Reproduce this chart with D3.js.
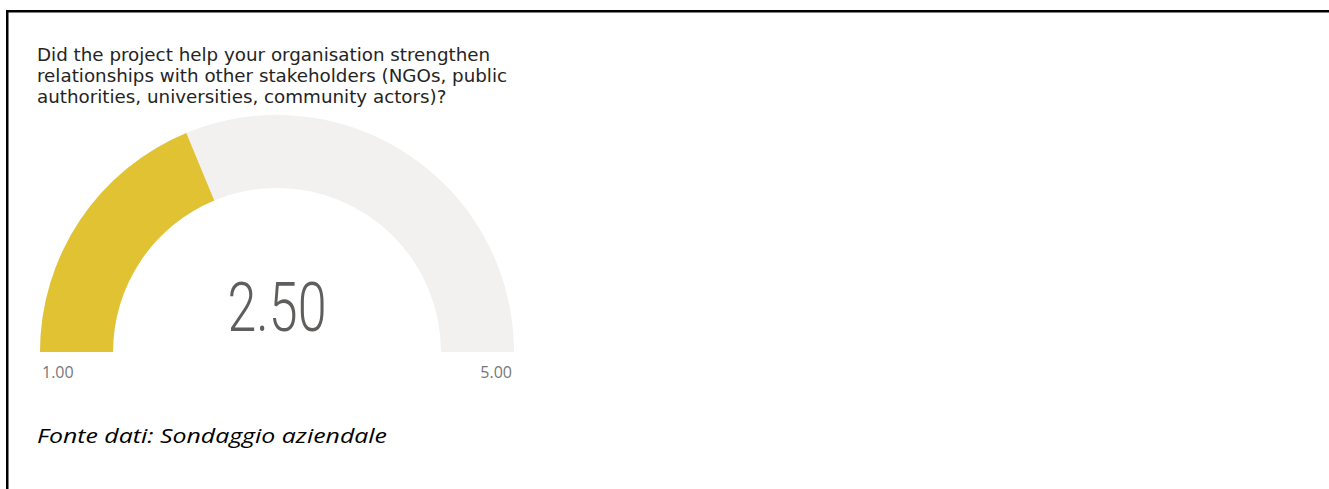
<!DOCTYPE html>
<html>
<head>
<meta charset="utf-8">
<script src="https://cdn.jsdelivr.net/npm/d3@7"></script>
<style>
  html, body { margin: 0; padding: 0; background: #fff; }
  svg { display: block; }
</style>
</head>
<body>
<svg id="chart" width="1329" height="489"></svg>
<script>
// Gauge data
const titleLines = [
  "Did the project help your organisation strengthen",
  "relationships with other stakeholders (NGOs, public",
  "authorities, universities, community actors)?"
];
const gaugeMin = [1];
const gaugeMax = [5];
const gaugeValue = [2.5];
const tickLabels = ["1.00", "5.00"];
const sourceNote = ["Fonte dati: Sondaggio aziendale"];

const svg = d3.select("#chart");

// Frame lines (top and left)
svg.append("rect").attr("x", 6).attr("y", 10).attr("width", 1323).attr("height", 2.5).attr("fill", "#000");
svg.append("rect").attr("x", 6).attr("y", 10).attr("width", 2.5).attr("height", 479).attr("fill", "#000");

// Title
svg.append("g").selectAll("text")
  .data(titleLines)
  .join("text")
  .attr("x", 37)
  .attr("y", (d, i) => 61 + i * 21)
  .attr("font-family", "'DejaVu Sans', sans-serif")
  .attr("font-size", 18.3)
  .attr("fill", "#252423")
  .text(d => d);

// Gauge geometry
const cx = 277, cy = 352, outerR = 237, innerR = 164;
const angle = d3.scaleLinear()
  .domain([gaugeMin[0], gaugeMax[0]])
  .range([-Math.PI / 2, Math.PI / 2]);

const arc = d3.arc().innerRadius(innerR).outerRadius(outerR);
const g = svg.append("g").attr("transform", `translate(${cx},${cy})`);

g.append("path")
  .attr("d", arc({ startAngle: angle(gaugeMin[0]), endAngle: angle(gaugeMax[0]) }))
  .attr("fill", "#F2F1F0");

g.append("path")
  .attr("d", arc({ startAngle: angle(gaugeMin[0]), endAngle: angle(gaugeValue[0]) }))
  .attr("fill", "#E1C233");

// Value label
const fmt = d3.format(".2f");
g.append("text")
  .attr("x", 0)
  .attr("y", -21)
  .attr("text-anchor", "middle")
  .attr("font-family", "Roboto, sans-serif")
  .attr("font-weight", 300)
  .attr("font-size", 68)
  .attr("fill", "#605E5C")
  .attr("textLength", 99)
  .attr("lengthAdjust", "spacingAndGlyphs")
  .text(fmt(gaugeValue[0]));

// Min / max labels
g.append("text")
  .attr("x", -outerR + 2)
  .attr("y", 26)
  .attr("text-anchor", "start")
  .attr("font-family", "'Open Sans', sans-serif")
  .attr("font-size", 16)
  .attr("fill", "#777")
  .text(tickLabels[0]);
g.append("text")
  .attr("x", outerR - 2)
  .attr("y", 26)
  .attr("text-anchor", "end")
  .attr("font-family", "'Open Sans', sans-serif")
  .attr("font-size", 16)
  .attr("fill", "#777")
  .text(tickLabels[1]);

// Source note
svg.append("text")
  .attr("x", 37)
  .attr("y", 443)
  .attr("font-family", "'Open Sans', sans-serif")
  .attr("font-style", "italic")
  .attr("font-size", 20)
  .attr("fill", "#000")
  .attr("textLength", 350)
  .attr("lengthAdjust", "spacingAndGlyphs")
  .text(sourceNote[0]);
</script>
</body>
</html>
